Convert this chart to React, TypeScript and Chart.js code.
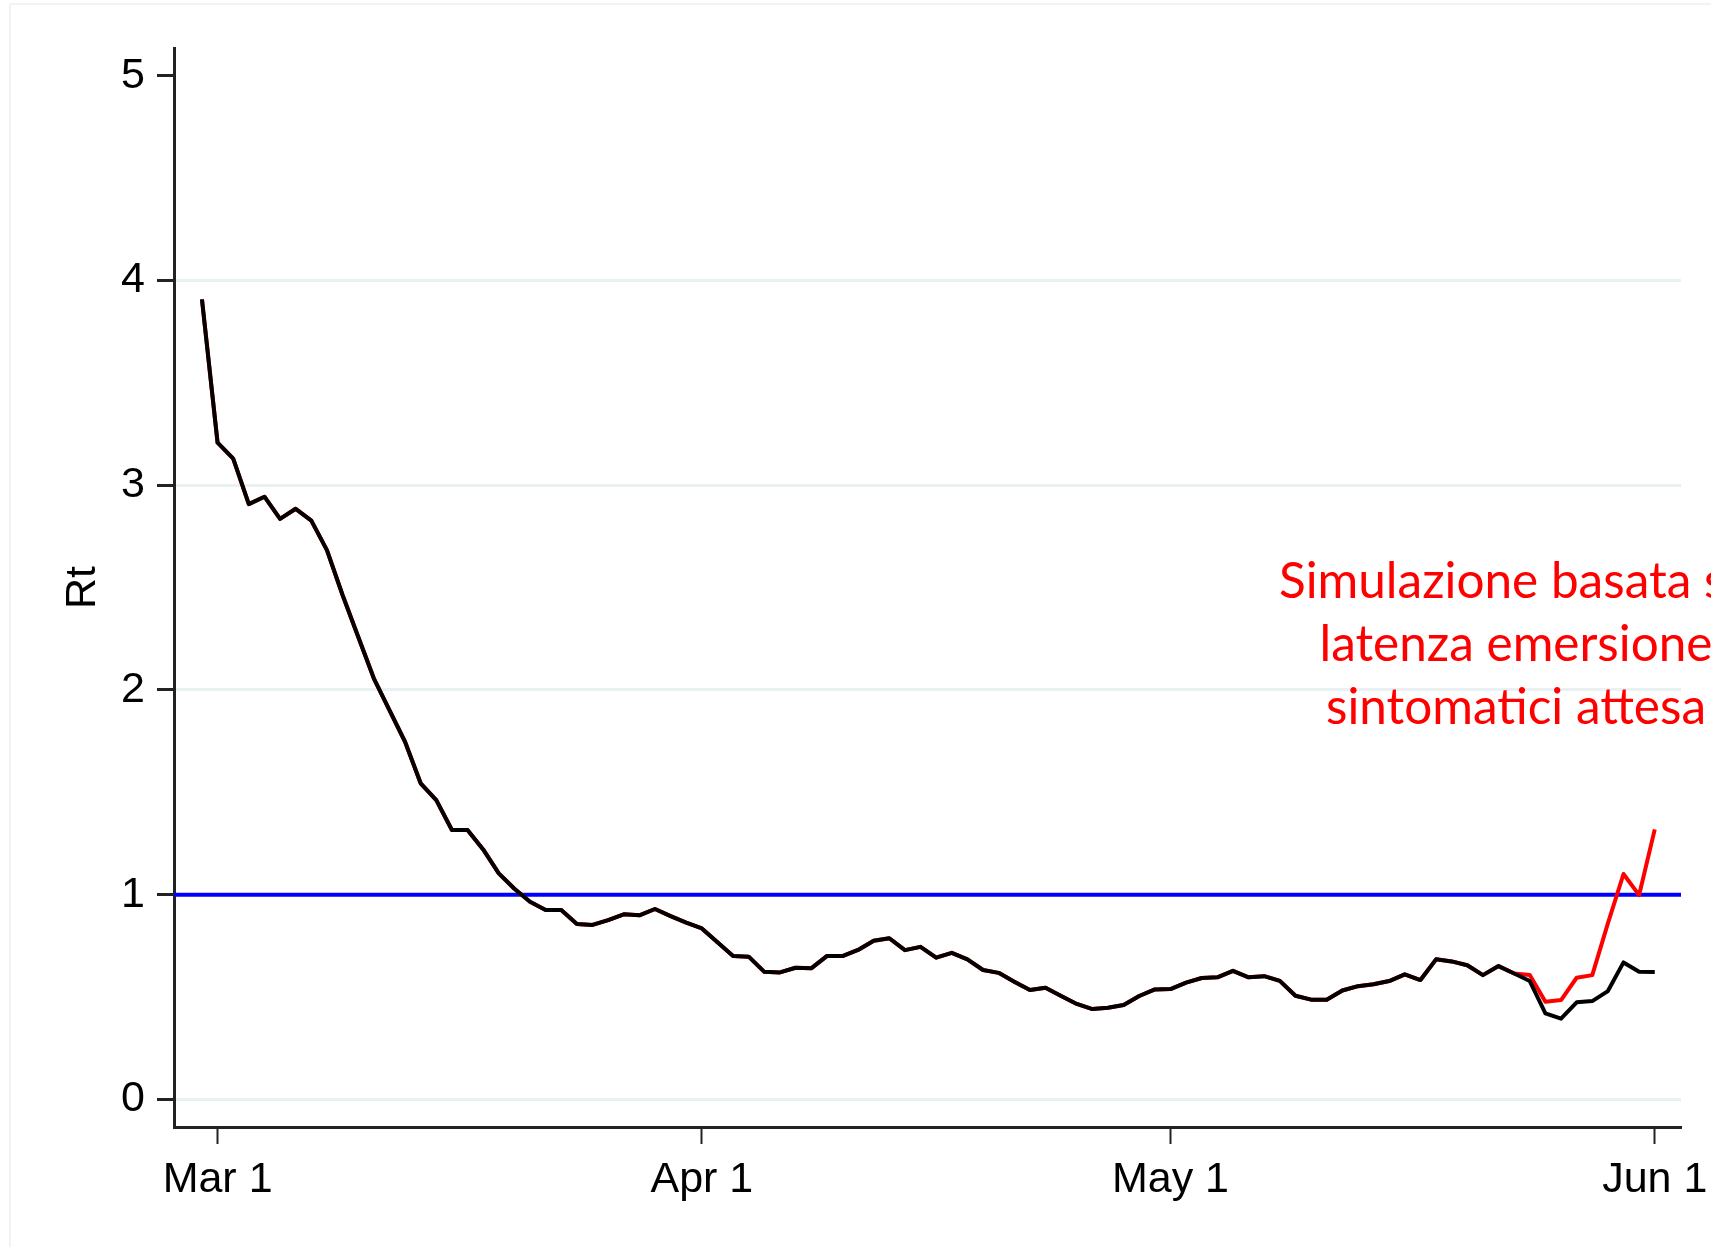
import React, { useEffect, useRef } from 'react';
import { Chart, registerables } from 'chart.js';

Chart.register(...registerables);

// Days are counted from Mar 1 (day 0). First observation is Feb 29 (day -1).
const FIRST_DAY = -1;
const RT_OBSERVED = [
  3.908, 3.208, 3.130, 2.908, 2.944, 2.836, 2.885, 2.827, 2.683, 2.464,
  2.260, 2.057, 1.902, 1.747, 1.544, 1.462, 1.316, 1.316, 1.221, 1.104,
  1.029, 0.965, 0.925, 0.925, 0.857, 0.852, 0.876, 0.904, 0.899, 0.930,
  0.895, 0.863, 0.835, 0.767, 0.700, 0.697, 0.623, 0.620, 0.643, 0.640,
  0.700, 0.700, 0.730, 0.775, 0.787, 0.729, 0.745, 0.692, 0.716, 0.684,
  0.632, 0.618, 0.575, 0.534, 0.545, 0.505, 0.466, 0.441, 0.448, 0.461,
  0.505, 0.537, 0.539, 0.570, 0.593, 0.596, 0.628, 0.596, 0.602, 0.579,
  0.506, 0.487, 0.487, 0.532, 0.553, 0.562, 0.578, 0.611, 0.583, 0.684,
  0.674, 0.655, 0.607, 0.651, 0.615, 0.578, 0.420, 0.394, 0.474, 0.480,
  0.529, 0.669, 0.623, 0.622,
];
// Simulated series diverges from the observed one from this day on
const SIM_START_DAY = 84;
const RT_SIMULATED_TAIL = [0.607, 0.477, 0.485, 0.594, 0.607, 0.860, 1.101, 0.998, 1.319];

const X_TICK_DAYS = [0, 31, 61, 92];
const X_TICK_LABELS = ['Mar 1', 'Apr 1', 'May 1', 'Jun 1'];
const Y_TICKS = [0, 1, 2, 3, 4, 5];
const X_RANGE = [-2.79, 93.68];
const Y_RANGE = [-0.135, 5.136];
const THRESHOLD = 1;
const Y_TITLE = 'Rt';
const NOTE_LINES = ['Simulazione basata su', 'latenza emersione', 'sintomatici attesa'];

const W = 1711;
const H = 1247;
const AXIS_FONT = { family: "'Liberation Sans', Arial, sans-serif", size: 43 };

export default function App() {
  const ref = useRef<HTMLCanvasElement | null>(null);

  useEffect(() => {
    const canvas = ref.current;
    if (!canvas) return;

    const observed = RT_OBSERVED.map((v, i) => ({ x: FIRST_DAY + i, y: v }));
    const simulated = RT_OBSERVED.map((v, i) => {
      const day = FIRST_DAY + i;
      const k = day - SIM_START_DAY;
      return { x: day, y: k >= 0 ? RT_SIMULATED_TAIL[k] : v };
    });

    const background = {
      id: 'background',
      beforeDraw(chart: any) {
        const { ctx } = chart;
        ctx.save();
        ctx.fillStyle = '#ffffff';
        ctx.fillRect(0, 0, chart.width, chart.height);
        ctx.strokeStyle = '#f1f3f4';
        ctx.lineWidth = 2;
        ctx.beginPath();
        ctx.moveTo(10, H + 5);
        ctx.lineTo(10, 4);
        ctx.lineTo(W + 5, 4);
        ctx.stroke();
        ctx.restore();
      },
    };

    const thresholdLine = {
      id: 'thresholdLine',
      beforeDatasetsDraw(chart: any) {
        const { ctx, chartArea, scales } = chart;
        const y = scales.y.getPixelForValue(THRESHOLD);
        ctx.save();
        ctx.strokeStyle = '#0000ff';
        ctx.lineWidth = 4;
        ctx.beginPath();
        ctx.moveTo(chartArea.left, y);
        ctx.lineTo(chartArea.right, y);
        ctx.stroke();
        ctx.restore();
      },
    };

    const note = {
      id: 'note',
      afterDraw(chart: any) {
        const { ctx } = chart;
        ctx.save();
        ctx.fillStyle = '#ff0000';
        ctx.font = "49.5px Lato, 'Open Sans', sans-serif";
        ctx.textAlign = 'center';
        ctx.textBaseline = 'alphabetic';
        NOTE_LINES.forEach((line, i) => {
          ctx.fillText(line, 1516, 598 + i * 63);
        });
        ctx.restore();
      },
    };

    const chart = new Chart(canvas, {
      type: 'line',
      data: {
        datasets: [
          {
            label: 'Rt',
            data: observed,
            borderColor: '#000000',
            borderWidth: 4,
            pointRadius: 0,
            tension: 0,
            borderJoinStyle: 'round',
          },
          {
            label: 'Simulazione',
            data: simulated,
            borderColor: '#ff0000',
            borderWidth: 4,
            pointRadius: 0,
            tension: 0,
            borderJoinStyle: 'round',
          },
        ],
      },
      options: {
        responsive: false,
        animation: false,
        events: [],
        layout: { padding: { top: 48, right: 30, left: 0, bottom: 0 } },
        plugins: {
          legend: { display: false },
          tooltip: { enabled: false },
        },
        scales: {
          x: {
            type: 'linear',
            min: X_RANGE[0],
            max: X_RANGE[1],
            afterBuildTicks: (s: any) => {
              s.ticks = X_TICK_DAYS.map((v) => ({ value: v }));
            },
            afterFit: (s: any) => {
              s.height = 120;
              s.paddingLeft = 0;
              s.paddingRight = 0;
            },
            grid: {
              drawOnChartArea: false,
              drawTicks: true,
              tickLength: 17,
              tickColor: '#222222',
              tickWidth: 2,
            },
            border: { display: true, color: '#222222', width: 3 },
            ticks: {
              autoSkip: false,
              maxRotation: 0,
              padding: 10,
              color: '#000000',
              font: AXIS_FONT,
              callback: (value: any) => {
                const i = X_TICK_DAYS.indexOf(Number(value));
                return i >= 0 ? X_TICK_LABELS[i] : '';
              },
            },
          },
          y: {
            type: 'linear',
            min: Y_RANGE[0],
            max: Y_RANGE[1],
            afterBuildTicks: (s: any) => {
              s.ticks = Y_TICKS.map((v) => ({ value: v }));
            },
            afterFit: (s: any) => {
              s.width = 174;
              s.paddingTop = 0;
              s.paddingBottom = 0;
            },
            grid: {
              color: (c: any) => (c.tick && c.tick.value === 5 ? 'rgba(0,0,0,0)' : '#eaf1f3'),
              lineWidth: 3,
              drawTicks: true,
              tickLength: 17,
              tickColor: '#222222',
              tickWidth: 3,
            },
            border: { display: true, color: '#222222', width: 3 },
            ticks: {
              padding: 12,
              color: '#000000',
              font: AXIS_FONT,
              callback: (value: any) => String(value),
            },
            title: {
              display: true,
              text: Y_TITLE,
              color: '#000000',
              font: AXIS_FONT,
              padding: { top: 57, bottom: 0 },
            },
          },
        },
      },
      plugins: [background, thresholdLine, note],
    } as any);

    return () => {
      chart.destroy();
    };
  }, []);

  return (
    <canvas
      ref={ref}
      width={W}
      height={H}
      style={{ position: 'fixed', left: 0, top: 0, width: W, height: H, display: 'block' }}
    />
  );
}
